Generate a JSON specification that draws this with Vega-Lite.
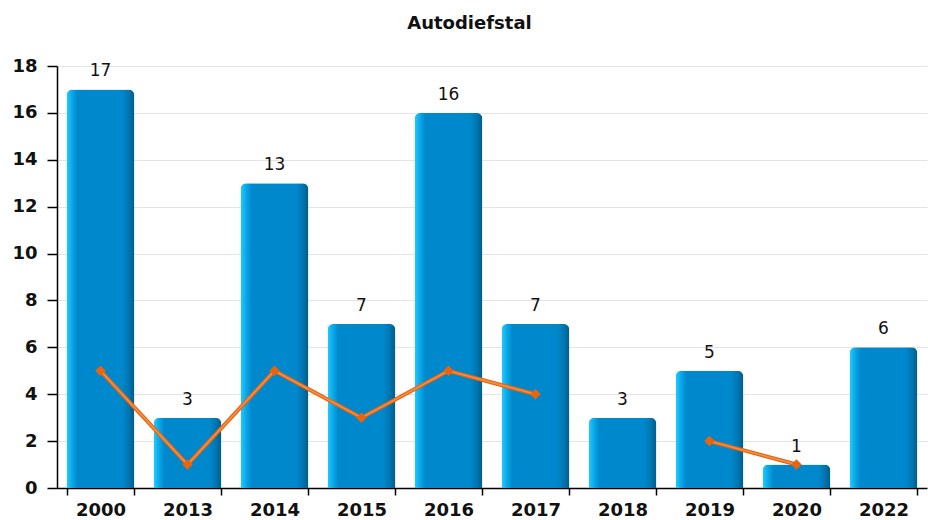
{
  "$schema": "https://vega.github.io/schema/vega-lite/v6.json",
  "autosize": "none",
  "width": 870,
  "height": 422,
  "padding": {"left": 57, "top": 66, "right": 1, "bottom": 32},
  "background": "white",
  "title": {"text": "Autodiefstal", "font": "DejaVu Sans", "fontSize": 18, "fontWeight": "bold", "color": "#111", "offset": 24, "anchor": "middle", "frame": "bounds"},
  "config": {"view": {"stroke": null}},
  "data": {"values": [
    {"jaar": "2000", "aantal": 17, "lijn": 5},
    {"jaar": "2013", "aantal": 3, "lijn": 1},
    {"jaar": "2014", "aantal": 13, "lijn": 5},
    {"jaar": "2015", "aantal": 7, "lijn": 3},
    {"jaar": "2016", "aantal": 16, "lijn": 5},
    {"jaar": "2017", "aantal": 7, "lijn": 4},
    {"jaar": "2018", "aantal": 3, "lijn": null},
    {"jaar": "2019", "aantal": 5, "lijn": 2},
    {"jaar": "2020", "aantal": 1, "lijn": 1},
    {"jaar": "2022", "aantal": 6, "lijn": null}
  ]},
  "encoding": {
    "x": {"field": "jaar", "type": "nominal", "sort": null,
      "scale": {"paddingInner": 0.22, "paddingOuter": 0.11},
      "axis": {"title": null, "labelAngle": 0, "labelFont": "DejaVu Sans", "labelFontSize": 18, "labelFontWeight": "bold", "labelColor": "#111", "domainColor": "#000", "domainWidth": 1.5, "tickColor": "#000", "tickSize": 7, "tickWidth": 1.5, "tickBand": "extent", "labelPadding": 6}
    }
  },
  "layer": [
    {
      "mark": {"type": "bar", "cornerRadiusTopLeft": 6, "cornerRadiusTopRight": 6,
        "color": {"gradient": "linear", "x1": 0, "y1": 0, "x2": 1, "y2": 0,
          "stops": [
            {"offset": 0, "color": "#22ccff"},
            {"offset": 0.08, "color": "#0aa8ea"},
            {"offset": 0.16, "color": "#0088cc"},
            {"offset": 0.82, "color": "#0088cc"},
            {"offset": 0.92, "color": "#0075b0"},
            {"offset": 1, "color": "#005c8a"}
          ]}},
      "encoding": {
        "y": {"field": "aantal", "type": "quantitative",
          "scale": {"domain": [0, 18], "nice": false},
          "axis": {"title": null, "values": [0, 2, 4, 6, 8, 10, 12, 14, 16, 18], "labelFont": "DejaVu Sans", "labelFontSize": 18, "labelFontWeight": "bold", "labelColor": "#111", "grid": true, "gridColor": "#e4e4e4", "domainColor": "#000", "domainWidth": 1.5, "tickColor": "#000", "tickSize": 10, "tickWidth": 1.5, "labelPadding": 10}
        }
      }
    },
    {
      "mark": {"type": "text", "baseline": "bottom", "dy": -9, "font": "DejaVu Sans", "fontSize": 17, "color": "#111"},
      "encoding": {
        "y": {"field": "aantal", "type": "quantitative"},
        "text": {"field": "aantal", "type": "quantitative"}
      }
    },
    {
      "mark": {"type": "line", "color": "#e8650f", "strokeWidth": 4, "invalid": "break-paths-show-domains"},
      "encoding": {
        "y": {"field": "lijn", "type": "quantitative"}
      }
    },
    {
      "mark": {"type": "line", "color": "#f59048", "strokeWidth": 1.5, "invalid": "break-paths-show-domains"},
      "encoding": {
        "y": {"field": "lijn", "type": "quantitative"}
      }
    },
    {
      "mark": {"type": "point", "shape": "diamond", "filled": true, "color": "#e8650f", "size": 110, "opacity": 1},
      "encoding": {
        "y": {"field": "lijn", "type": "quantitative"}
      }
    }
  ]
}
